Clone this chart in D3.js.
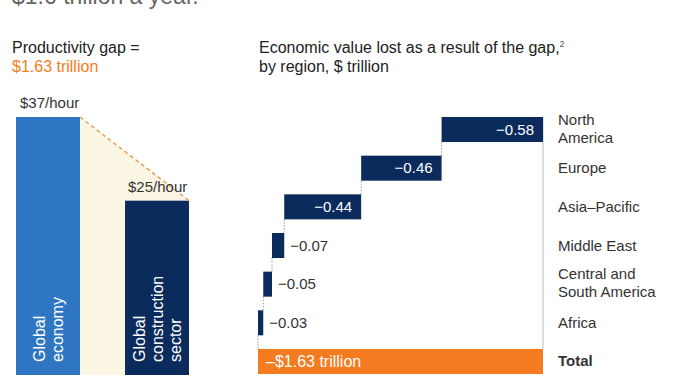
<!DOCTYPE html>
<html>
<head>
<meta charset="utf-8">
<script src="https://cdn.jsdelivr.net/npm/d3@7"></script>
<style>
  body { margin: 0; background: #fff; }
  svg { display: block; font-family: "Liberation Sans", Arial, sans-serif; }
</style>
</head>
<body>
<svg id="chart" width="678" height="381"></svg>
<script>
// productivity per hour
const sectors = ["Global economy", "Global construction sector"];
const sectorLines = [["Global", "economy"], ["Global", "construction", "sector"]];
const hourly = [37, 25];
const hourlyLabels = ["$37/hour", "$25/hour"];

// economic value lost, $ trillion
const regions = ["North America", "Europe", "Asia–Pacific", "Middle East", "Central and South America", "Africa"];
const regionLines = [["North", "America"], ["Europe"], ["Asia–Pacific"], ["Middle East"], ["Central and", "South America"], ["Africa"]];
const lost = [-0.58, -0.46, -0.44, -0.07, -0.05, -0.03];
const totalLost = -1.63;
const totalLabel = "–$1.63 trillion";

const navy = "#0b2b5d", blue = "#2f76c2", orange = "#f47b20", beige = "#fbf5e4", ink = "#333";

const svg = d3.select("#chart");

// headings
svg.append("text").attr("x", 12).attr("y", 4).attr("font-size", 23).attr("fill", "#666")
  .text("$1.6 trillion a year.");
svg.append("text").attr("x", 12).attr("y", 53).attr("font-size", 16).attr("fill", "#222")
  .text("Productivity gap =");
svg.append("text").attr("x", 12).attr("y", 72).attr("font-size", 16).attr("fill", orange)
  .text("$1.63 trillion");
const h2 = svg.append("text").attr("x", 259).attr("y", 53).attr("font-size", 16).attr("fill", "#222")
  .text("Economic value lost as a result of the gap,");
h2.append("tspan").attr("font-size", 9).attr("dy", -6).attr("fill", "#555").text("2");
svg.append("text").attr("x", 259).attr("y", 72).attr("font-size", 16).attr("fill", "#222")
  .text("by region, $ trillion");

// ---- left: productivity bars
const xL = d3.scaleBand().domain(sectors).range([16, 189]).paddingInner(0.413);
const yL = d3.scaleLinear().domain([0, 37]).range([375, 117]);

const x0r = xL(sectors[0]) + xL.bandwidth();
const x1l = xL(sectors[1]), x1r = x1l + xL.bandwidth();
svg.append("polygon")
  .attr("points", [[x0r, yL(hourly[0])], [x1r, yL(hourly[1])], [x1l, yL(hourly[1])], [x1l, yL(0)], [x0r, yL(0)]].join(" "))
  .attr("fill", beige);

svg.selectAll(".pbar").data(hourly).join("rect")
  .attr("x", (d, i) => xL(sectors[i]))
  .attr("y", d => yL(d))
  .attr("width", xL.bandwidth())
  .attr("height", d => yL(0) - yL(d))
  .attr("fill", (d, i) => i ? navy : blue);

svg.append("line")
  .attr("x1", x0r).attr("y1", yL(hourly[0]))
  .attr("x2", x1r).attr("y2", yL(hourly[1]))
  .attr("stroke", "#e3a15c").attr("stroke-width", 1.5).attr("stroke-dasharray", "4,3");

svg.selectAll(".plab").data(hourlyLabels).join("text")
  .attr("x", (d, i) => xL(sectors[i]) + (i ? 3 : 4))
  .attr("y", (d, i) => yL(hourly[i]) - 9)
  .attr("font-size", 15).attr("fill", ink)
  .text(d => d);

// rotated white labels, block centred in the bar
sectorLines.forEach((lines, i) => {
  const cx = xL(sectors[i]) + xL.bandwidth() / 2;
  lines.forEach((ln, j) => {
    const bx = cx + (j - (lines.length - 1) / 2) * 18 + 6;
    svg.append("text")
      .attr("transform", `translate(${bx},362) rotate(-90)`)
      .attr("font-size", 16).attr("fill", "#fff")
      .text(ln);
  });
});

// ---- right: waterfall
const xR = d3.scaleLinear().domain([0, -totalLost]).range([258, 543]);
const rows = regions.concat(["Total"]);
const yR = d3.scaleBand().domain(rows).range([117, 374]).paddingInner(0.353).paddingOuter(0);

let end = -totalLost;
const steps = lost.map((v, i) => {
  const s = { region: regions[i], v, hi: end, lo: end + v };
  end += v;
  return s;
});

// right-hand guide line
svg.append("line")
  .attr("x1", xR(-totalLost)).attr("x2", xR(-totalLost))
  .attr("y1", yR(regions[0])).attr("y2", yR("Total"))
  .attr("stroke", "#cdd4de").attr("stroke-width", 1.5);

// dotted connectors
steps.forEach((s, i) => {
  const nextTop = i < steps.length - 1 ? yR(regions[i + 1]) : yR("Total");
  svg.append("line")
    .attr("x1", xR(s.lo)).attr("x2", xR(s.lo))
    .attr("y1", yR(s.region) + yR.bandwidth()).attr("y2", nextTop)
    .attr("stroke", "#999").attr("stroke-width", 1).attr("stroke-dasharray", "1.5,1.5");
});

svg.selectAll(".wbar").data(steps).join("rect")
  .attr("x", d => xR(d.lo))
  .attr("y", d => yR(d.region))
  .attr("width", d => xR(d.hi) - xR(d.lo))
  .attr("height", yR.bandwidth())
  .attr("fill", navy);

svg.selectAll(".wlab").data(steps).join("text")
  .attr("x", d => (xR(d.hi) - xR(d.lo) > 50) ? xR(d.hi) - 9 : xR(d.hi) + 6)
  .attr("y", d => yR(d.region) + yR.bandwidth() / 2 + 5)
  .attr("text-anchor", d => (xR(d.hi) - xR(d.lo) > 50) ? "end" : "start")
  .attr("font-size", 15)
  .attr("fill", d => (xR(d.hi) - xR(d.lo) > 50) ? "#fff" : ink)
  .text(d => "−" + d3.format(".2f")(-d.v));

svg.append("rect")
  .attr("x", xR(0)).attr("y", yR("Total"))
  .attr("width", xR(-totalLost) - xR(0)).attr("height", yR.bandwidth())
  .attr("fill", orange);
svg.append("text")
  .attr("x", xR(0) + 8).attr("y", yR("Total") + yR.bandwidth() / 2 + 6)
  .attr("font-size", 16).attr("fill", "#fff")
  .text(totalLabel);

// category labels
regionLines.concat([["Total"]]).forEach((lines, i) => {
  const cy = yR(rows[i]) + yR.bandwidth() / 2;
  const t = svg.append("text").attr("x", 558).attr("font-size", 15).attr("fill", ink)
    .attr("font-weight", rows[i] === "Total" ? "bold" : null);
  lines.forEach((ln, j) => {
    t.append("tspan").attr("x", 558)
      .attr("y", lines.length > 1 ? cy - 5 + j * 18 : cy + 5)
      .text(ln);
  });
});
</script>
</body>
</html>
